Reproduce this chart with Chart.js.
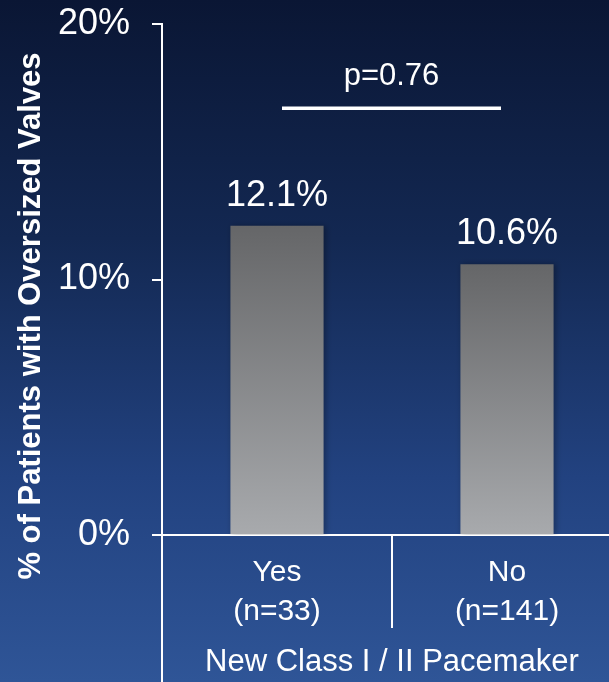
<!DOCTYPE html>
<html>
<head>
<meta charset="utf-8">
<title>Oversized valves by new pacemaker</title>
<script src="https://cdn.jsdelivr.net/npm/chart.js@4/dist/chart.umd.min.js"></script>
<style>
  html, body { margin: 0; padding: 0; overflow: hidden; background: #1a3366; }
  #wrap { width: 622px; height: 682px; }
  canvas { display: block; }
</style>
</head>
<body>
<div id="wrap"><canvas id="chart" width="622" height="682"></canvas></div>
<script>
// Data
const categories = [["Yes", "(n=33)"], ["No", "(n=141)"]];
const oversizedPct = [12.1, 10.6];
const yTicks = [0, 10, 20];
const pValueLabel = "p=0.76";
const pBracketLevel = 16.7;   // % level of the comparison bar
const yTitle = "% of Patients with Oversized Valves";
const xTitle = "New Class I / II Pacemaker";

const FONT = '"Liberation Sans", Arial, Helvetica, sans-serif';
const WHITE = "#ffffff";

// Slide-style vertical background gradient
const backgroundPlugin = {
  id: "slideBackground",
  beforeDraw(chart) {
    const { ctx, width, height } = chart;
    const g = ctx.createLinearGradient(0, 0, 0, height);
    g.addColorStop(0, "#0a1634");
    g.addColorStop(0.35, "#132852");
    g.addColorStop(0.7, "#224280");
    g.addColorStop(1, "#2f5597");
    ctx.save();
    ctx.fillStyle = g;
    ctx.fillRect(0, 0, width, height);
    ctx.restore();
  }
};

// Soft shadow behind the bars
const barShadowPlugin = {
  id: "barShadow",
  beforeDatasetsDraw(chart) {
    const ctx = chart.ctx;
    ctx.save();
    ctx.shadowColor = "rgba(0,0,0,0.3)";
    ctx.shadowBlur = 6;
    ctx.shadowOffsetX = 2;
    ctx.shadowOffsetY = 0;
  },
  afterDatasetsDraw(chart) {
    chart.ctx.restore();
  }
};

// Value labels, comparison bracket, axis extension and vertical title
const annotationPlugin = {
  id: "annotations",
  afterDraw(chart) {
    const { ctx, chartArea, scales, height } = chart;
    const x = scales.x, y = scales.y;
    ctx.save();

    // y axis line continues down through the category label area
    ctx.strokeStyle = WHITE;
    ctx.lineWidth = 2;
    ctx.beginPath();
    ctx.moveTo(chartArea.left, chartArea.bottom);
    ctx.lineTo(chartArea.left, height);
    ctx.stroke();

    // bar value labels
    ctx.fillStyle = WHITE;
    ctx.font = "36px " + FONT;
    ctx.textAlign = "center";
    ctx.textBaseline = "alphabetic";
    const meta = chart.getDatasetMeta(0);
    meta.data.forEach((bar, i) => {
      ctx.fillText(oversizedPct[i].toFixed(1) + "%", bar.x, bar.y - 20);
    });

    // comparison bar with p value
    const by = y.getPixelForValue(pBracketLevel);
    const bx0 = x.getPixelForValue(0) + 5;
    const bx1 = x.getPixelForValue(1) - 6;
    ctx.lineWidth = 3.5;
    ctx.beginPath();
    ctx.moveTo(bx0, by);
    ctx.lineTo(bx1, by);
    ctx.stroke();
    ctx.font = "31px " + FONT;
    ctx.fillText(pValueLabel, (bx0 + bx1) / 2, by - 23);

    // vertical axis title
    ctx.translate(31, 316);
    ctx.rotate(-Math.PI / 2);
    ctx.font = "bold 31px " + FONT;
    ctx.textAlign = "center";
    ctx.textBaseline = "middle";
    ctx.fillText(yTitle, 0, 0);
    ctx.restore();
  }
};

function barGradient(context) {
  const chart = context.chart;
  const area = chart.chartArea;
  if (!area) return "#8a8b8e";
  const yScale = chart.scales.y;
  const top = yScale.getPixelForValue(oversizedPct[context.dataIndex]);
  const bottom = yScale.getPixelForValue(0);
  const g = chart.ctx.createLinearGradient(0, top, 0, bottom);
  g.addColorStop(0, "#656668");
  g.addColorStop(1, "#a8aaad");
  return g;
}

new Chart(document.getElementById("chart"), {
  type: "bar",
  data: {
    labels: categories,
    datasets: [{
      data: oversizedPct,
      backgroundColor: barGradient,
      borderWidth: 0,
      barPercentage: 0.405,
      categoryPercentage: 1.0
    }]
  },
  options: {
    responsive: false,
    animation: false,
    devicePixelRatio: 1,
    layout: { padding: { top: 24, left: 0, right: 0, bottom: 0 } },
    plugins: {
      legend: { display: false },
      tooltip: { enabled: false }
    },
    scales: {
      y: {
        min: 0,
        max: 20,
        afterFit(scale) {
          scale.width = 162;
          scale.paddingTop = 0;
          scale.paddingBottom = 0;
        },
        afterBuildTicks(scale) { scale.ticks = yTicks.map(v => ({ value: v })); },
        border: { display: true, color: WHITE, width: 2 },
        grid: {
          display: true,
          drawOnChartArea: false,
          drawTicks: true,
          tickLength: 10,
          color: WHITE,
          lineWidth: 2
        },
        ticks: {
          color: WHITE,
          padding: 22,
          font: { family: FONT, size: 36 },
          callback: v => v + "%"
        }
      },
      x: {
        offset: true,
        afterFit(scale) { scale.height = 147; },
        border: { display: true, color: WHITE, width: 2 },
        grid: {
          display: true,
          offset: true,
          drawOnChartArea: false,
          drawTicks: true,
          tickLength: 93,
          color: WHITE,
          lineWidth: 2
        },
        ticks: {
          color: WHITE,
          padding: -75,
          maxRotation: 0,
          font: { family: FONT, size: 30, lineHeight: 1.3 }
        },
        title: {
          display: true,
          text: xTitle,
          color: WHITE,
          padding: { top: 0, bottom: 1 },
          font: { family: FONT, size: 31, lineHeight: 1.2 }
        }
      }
    }
  },
  plugins: [backgroundPlugin, barShadowPlugin, annotationPlugin]
});
</script>
</body>
</html>
